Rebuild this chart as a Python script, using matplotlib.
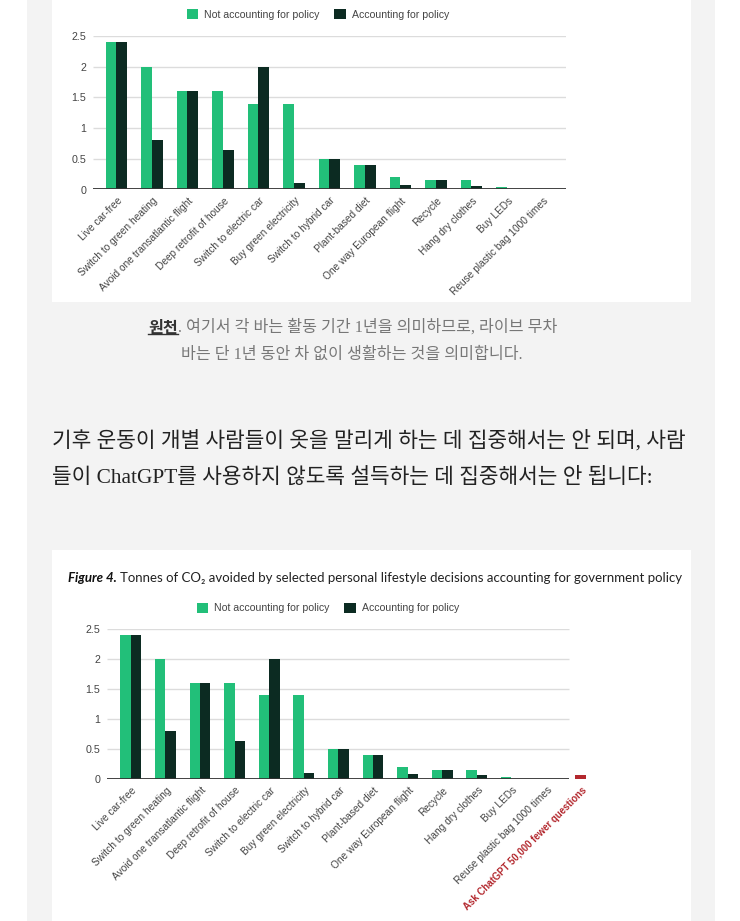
import matplotlib.pyplot as plt
from matplotlib.patches import Rectangle, Patch
from matplotlib.lines import Line2D
from matplotlib.transforms import ScaledTranslation
import numpy as np

W, H = 740, 921

categories = ['Live car-free', 'Switch to green heating', 'Avoid one transatlantic flight',
              'Deep retrofit of house', 'Switch to electric car', 'Buy green electricity',
              'Switch to hybrid car', 'Plant-based diet', 'One way European flight',
              'Recycle', 'Hang dry clothes', 'Buy LEDs', 'Reuse plastic bag 1000 times']
not_policy = [2.4, 2.0, 1.6, 1.6, 1.4, 1.4, 0.5, 0.4, 0.2, 0.15, 0.15, 0.035, 0.004]
with_policy = [2.4, 0.8, 1.6, 0.64, 2.0, 0.1, 0.5, 0.4, 0.08, 0.15, 0.06, 0.008, 0.003]
chatgpt_label = 'Ask ChatGPT 50,000 fewer questions'
chatgpt_value = 0.06
y_ticks = [0, 0.5, 1, 1.5, 2, 2.5]
y_labels = ['0', '0.5', '1', '1.5', '2', '2.5']
legend_labels = ['Not accounting for policy', 'Accounting for policy']

title_bold = 'Figure 4.'
title_rest = 'Tonnes of CO\u2082 avoided by selected personal lifestyle decisions accounting for government policy'
source_word = '원천'
caption_1 = '. 여기서 각 바는 활동 기간 1년을 의미하므로, 라이브 무차'
caption_2 = '바는 단 1년 동안 차 없이 생활하는 것을 의미합니다.'
para_1 = '기후 운동이 개별 사람들이 옷을 말리게 하는 데 집중해서는 안 되며, 사람'
para_2 = '들이 ChatGPT를 사용하지 않도록 설득하는 데 집중해서는 안 됩니다:'

GREEN = '#22bf79'
DARK = '#0c2b22'
RED = '#b3282e'
LABEL = '#444444'

plt.rcParams['font.family'] = ['Liberation Sans', 'DejaVu Sans']
KR_SANS = ['Noto Sans CJK KR', 'DejaVu Sans']
KR_SERIF = ['Liberation Serif', 'Noto Sans CJK KR']

fig = plt.figure(figsize=(W / 100, H / 100), dpi=100)
fig.patch.set_facecolor('white')


def fx(x):
    return x / W


def fy(y):
    return 1 - y / H


# page column and the two white cards
fig.add_artist(Rectangle((fx(27), 0), fx(715) - fx(27), 1, transform=fig.transFigure,
                         facecolor='#f3f3f3', edgecolor='none', zorder=-3))
fig.add_artist(Rectangle((fx(52), fy(302)), fx(691) - fx(52), 302 / H, transform=fig.transFigure,
                         facecolor='white', edgecolor='none', zorder=-2))
fig.add_artist(Rectangle((fx(52), 0), fx(691) - fx(52), fy(550), transform=fig.transFigure,
                         facecolor='white', edgecolor='none', zorder=-2))

shift = ScaledTranslation(3 / 72, 0, fig.dpi_scale_trans)


def bar_chart(left, step, y0, ytop, xmin, xgrid, extra=False):
    # left: pixel of xmin, step: pixels per category, grid ends at xgrid
    xmax = xgrid + (1.0 if extra else 0)
    right = left + (xmax - xmin) * step
    ax = fig.add_axes([fx(left), fy(y0), fx(right) - fx(left), (y0 - ytop) / H])
    ax.set_facecolor('none')
    x = np.arange(len(categories))
    ax.bar(x - 0.15, not_policy, 0.3, color=GREEN, zorder=2)
    ax.bar(x + 0.15, with_policy, 0.3, color=DARK, zorder=2)
    labels = list(categories)
    ticks = list(x)
    if extra:
        ax.bar(len(categories), chatgpt_value, 0.33, color=RED, zorder=2)
        labels.append(chatgpt_label)
        ticks.append(len(categories))
    ax.hlines(y_ticks[1:], xmin, xgrid, color='#dcdcdc', linewidth=1, zorder=1)
    ax.hlines(0, xmin, xgrid, color='#333333', linewidth=1.3, zorder=3)
    ax.set_xlim(xmin, xmax)
    ax.set_ylim(0, 2.5)
    for s in ax.spines.values():
        s.set_visible(False)
    ax.set_yticks(y_ticks)
    ax.set_yticklabels(y_labels)
    ax.set_xticks(ticks)
    ax.set_xticklabels(labels, rotation=45, ha='right', va='center', rotation_mode='anchor')
    ax.tick_params(axis='x', length=0, labelsize=7.3, labelcolor=LABEL, pad=7)
    ax.tick_params(axis='y', length=0, labelsize=7.7, labelcolor=LABEL, pad=5)
    for lab in ax.get_xticklabels():
        lab.set_transform(lab.get_transform() + shift)
    if extra:
        lab = ax.get_xticklabels()[-1]
        lab.set_color(RED)
        lab.set_fontweight('bold')
        lab.set_fontsize(6.9)
    return ax


ax1 = bar_chart(93, 35.5, 189.5, 36, -0.66, 12.66)
ax2 = bar_chart(107, 34.6, 779, 629, -0.69, 12.67, extra=True)

handles = [Patch(facecolor=GREEN, edgecolor='none'), Patch(facecolor=DARK, edgecolor='none')]
for cy, cx in [(14.5, 318), (608, 328)]:
    fig.legend(handles, legend_labels, loc='center', bbox_to_anchor=(fx(cx), fy(cy)),
               ncol=2, frameon=False, fontsize=7.6, handlelength=1.05, handleheight=1.05,
               handletextpad=0.6, columnspacing=1.4, labelcolor=LABEL, borderpad=0)

# chart 2 title
t_fig = fig.text(fx(68), fy(584), title_bold, fontsize=9.5, fontweight='bold', style='italic',
                 family=['Lato', 'DejaVu Sans'], color='#111111', va='bottom')
ax2.annotate(title_rest, xy=(1, 0), xycoords=t_fig, xytext=(2.5, 0), textcoords='offset points',
             fontsize=9.5, family=['Lato', 'DejaVu Sans'], color='#222222', va='bottom',
             ha='left', annotation_clip=False)

# caption below chart 1
t_src = fig.text(fx(148), fy(336), source_word, fontsize=11.6, family=KR_SANS, color='#333333',
                 va='bottom', fontweight='bold')
ax1.annotate(caption_1, xy=(1, 0), xycoords=t_src, fontsize=11.6, family=KR_SERIF,
             color='#777777', va='bottom', ha='left', annotation_clip=False)
fig.text(fx(352), fy(363), caption_2, fontsize=11.6, family=KR_SERIF, color='#777777',
         va='bottom', ha='center')

# paragraph
fig.text(fx(52), fy(441), para_1, fontsize=15.4, family=KR_SERIF, color='#222222', va='center')
fig.text(fx(52), fy(478), para_2, fontsize=15.4, family=KR_SERIF, color='#222222', va='center')

# underline under the source link
fig.canvas.draw()
bb = t_src.get_window_extent()
fig.add_artist(Line2D([bb.x0 / W, bb.x1 / W], [(bb.y0 + 1.5) / H] * 2, transform=fig.transFigure,
                      color='#333333', linewidth=1))

fig.savefig('out.png', dpi=100)
